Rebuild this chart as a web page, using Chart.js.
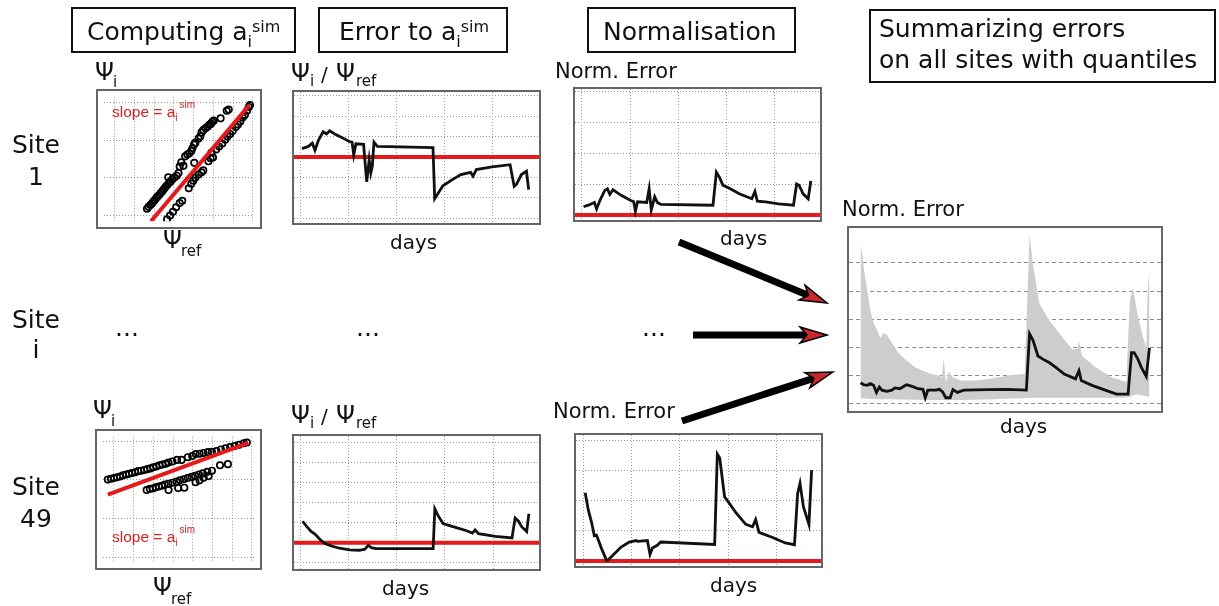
<!DOCTYPE html>
<html><head><meta charset="utf-8">
<script src="https://cdn.jsdelivr.net/npm/chart.js@4.4.1/dist/chart.umd.min.js"></script>
<style>
html,body{margin:0;padding:0;background:#fff;}
body{width:1219px;height:606px;position:relative;overflow:hidden;}
.panel{position:absolute;border:2px solid #666;box-sizing:border-box;background:#fff;}
.panel canvas{display:block;}
#ov{position:absolute;left:0;top:0;pointer-events:none;z-index:5;}
</style></head>
<body>
<script>
// ---------------- DATA ----------------
// Grid (tick) values
const dayGrid = [0, 20, 40, 60, 80];
const ratioGrid1 = [0.7, 0.8, 0.9, 1.0, 1.1, 1.2, 1.3];
const ratioGrid49 = [0.9, 1.0, 1.1, 1.2, 1.3, 1.4, 1.5];
const normGrid = [0, 1, 2, 3, 4];
const scatterGridX = [0, 1, 2, 3, 4, 5, 6, 7];
const scatterGridY = [0, 1, 2, 3];
const summaryGrid = [0, 1, 2, 3, 4, 5];

// Site 1 scatter: Psi_i vs Psi_ref
const s1UpperX = [1.63,1.71,1.80,1.88,1.95,2.03,2.11,2.18,2.26,2.34,2.42,2.49,2.57,2.65,2.71,2.75,2.83,2.92,3.02,3.14,3.23,3.29,3.37,3.48,3.57,3.68,3.78,3.88,3.94,4.02,4.09,4.25,4.34,4.40,4.49,4.60,4.71,4.80,4.88,4.95,5.02,5.37,5.68,5.78];
const s1UpperY = [0.19,0.24,0.29,0.33,0.38,0.42,0.48,0.52,0.56,0.62,0.66,0.71,0.76,0.81,1.02,0.87,0.91,0.97,1.01,1.06,1.13,1.30,1.41,1.32,1.57,1.62,1.65,1.71,1.79,1.88,1.93,2.04,2.10,2.20,2.26,2.31,2.35,2.40,2.43,2.48,2.51,2.57,2.77,2.80];
const s1LowerX = [2.65,2.80,2.95,3.11,3.29,3.42,3.75,3.88,3.98,4.09,4.25,4.40,4.49,4.03,4.75,4.86,4.98,4.91,5.14,5.29,5.45,5.60,5.72,5.85,5.98,6.14,6.25,6.37,6.49,6.60,6.71,6.80,6.86];
const s1LowerY = [-0.09,0.01,0.11,0.23,0.34,0.40,0.73,0.85,0.93,1.01,1.09,1.15,1.20,1.40,1.44,1.52,1.54,1.67,1.75,1.83,1.91,2.01,2.09,2.16,2.24,2.34,2.41,2.49,2.59,2.66,2.77,2.87,2.92];
const s1SlopeX = [1.83, 6.83];
const s1SlopeY = [-0.14, 2.92];

// Site 49 scatter
const s49UpperX = [-0.31,-0.15,0.00,0.15,0.31,0.46,0.62,0.77,0.92,1.08,1.23,1.38,1.54,1.69,1.85,2.00,2.15,2.31,2.46,2.62,2.77,2.97,3.20,3.43,3.75,3.97,4.15,4.35,4.55,4.77,4.97,5.20,5.43,5.66,5.89,6.12,6.35,6.58,6.74];
const s49UpperY = [2.01,2.03,2.05,2.07,2.09,2.12,2.14,2.16,2.18,2.20,2.23,2.24,2.26,2.28,2.30,2.33,2.35,2.38,2.40,2.42,2.45,2.48,2.52,2.52,2.59,2.62,2.67,2.68,2.70,2.72,2.73,2.75,2.79,2.82,2.85,2.88,2.91,2.95,2.97];
const s49LowerX = [1.66,1.82,1.97,2.12,2.28,2.43,2.58,2.77,2.97,3.17,3.35,3.54,3.74,3.94,4.12,4.31,4.51,4.74,4.97,5.38,5.78,2.77,3.26,3.57,4.14,4.34,4.55,4.80];
const s49LowerY = [1.74,1.77,1.78,1.81,1.83,1.85,1.88,1.90,1.93,1.96,1.99,2.02,2.05,2.08,2.11,2.14,2.17,2.21,2.24,2.38,2.41,1.74,1.79,1.80,1.94,1.99,2.06,2.10];
const s49SlopeX = [-0.31, 6.82];
const s49SlopeY = [1.62, 2.96];

// Site 1 ratio Psi_i / Psi_ref over days
const s1RatioDays = [0.7,3.4,5.0,6.1,7.5,9.5,10.9,12.2,14.3,17.0,20.4,21.5,22.2,23.1,26.3,26.8,27.6,28.6,29.3,29.9,30.6,32.0,55.1,55.8,57.1,59.2,63.3,66.7,70.7,71.7,73.1,79.6,87.1,88.8,89.8,91.8,93.9,94.8];
const s1Ratio = [1.041,1.052,1.068,1.033,1.081,1.124,1.113,1.129,1.113,1.097,1.076,1.073,1.010,1.065,1.062,0.986,0.878,0.986,0.922,0.954,1.073,1.052,1.046,0.795,0.819,0.859,0.890,0.914,0.925,0.906,0.938,0.951,0.962,0.856,0.867,0.914,0.930,0.840];
const refRatio = 1.0;

// Site 49 ratio
const s49RatioDays = [0.95,2.7,4.5,6.1,8.2,10.2,12.9,16.3,20.4,24.5,26.8,28.2,29.5,31.3,55.1,55.8,57.1,59.2,63.3,68.7,71.4,72.5,73.9,81.0,87.8,89.1,90.5,91.8,93.9,94.8];
const s49Ratio = [1.107,1.080,1.056,1.043,1.016,0.997,0.984,0.973,0.965,0.963,0.968,0.987,0.976,0.971,0.971,1.168,1.136,1.096,1.080,1.061,1.048,1.064,1.045,1.032,1.024,1.123,1.107,1.080,1.056,1.144];

// Site 1 normalised error
const s1NormDays = [0.7,2.7,5.2,6.1,7.5,9.5,10.6,11.6,12.9,16.3,20.1,21.5,22.2,23.1,26.9,27.9,28.8,30.2,31.3,32.7,54.4,55.8,57.1,58.5,61.2,65.3,70.5,71.8,72.8,76.2,81.6,87.8,89.1,90.1,91.8,93.9,95.0];
const s1Norm = [0.27,0.32,0.41,0.20,0.48,0.80,0.85,0.67,0.82,0.64,0.48,0.43,0.12,0.43,0.41,0.85,0.17,0.59,0.41,0.35,0.32,1.39,1.22,0.97,0.87,0.69,0.53,0.77,0.45,0.43,0.36,0.32,1.01,0.97,0.69,0.53,1.11];
const refNorm = 0;

// Site 49 normalised error
const s49NormDays = [0.7,2.0,3.4,4.5,5.4,7.5,9.5,10.2,12.2,15.6,19.0,21.8,22.4,26.5,27.6,28.6,30.6,32.0,54.4,55.5,56.5,58.5,60.5,63.3,67.3,70.1,71.4,72.8,78.2,83.7,87.5,88.8,89.8,91.2,93.5,94.6];
const s49Norm = [2.27,1.70,1.27,0.84,0.86,0.41,0.03,0.03,0.19,0.46,0.63,0.68,0.65,0.68,0.22,0.43,0.52,0.63,0.55,3.56,3.43,2.14,1.92,1.60,1.22,1.14,1.38,0.95,0.79,0.60,0.54,2.24,2.59,1.81,1.22,3.03];

// Summary over all sites: median and quantile band
const medDays = [0,1.1,2.3,3.4,4.5,5.5,6.5,7.4,9.1,10.8,11.9,13.6,15.9,17.6,19.9,21.6,22.4,23.3,26.1,27.3,28.4,29.5,31.0,32.0,33.5,35.8,43.8,50.6,57.4,58.5,59.7,61.4,63.1,65.3,67.6,70.5,74.4,75.6,76.4,80.1,84.7,88.6,92.6,93.8,94.7,96.0,97.2,98.9,100];
const medVals = [0.75,0.68,0.66,0.72,0.66,0.41,0.60,0.49,0.45,0.49,0.57,0.54,0.68,0.63,0.54,0.52,0.22,0.49,0.49,0.52,0.43,0.22,0.22,0.51,0.41,0.49,0.51,0.52,0.49,2.49,2.26,1.70,1.59,1.47,1.30,1.06,0.89,1.18,0.83,0.66,0.49,0.35,0.35,1.82,1.82,1.59,1.30,0.98,1.99];
const qDays = [0,1.1,2.3,3.4,4.5,5.7,6.8,8.0,9.1,10.8,13.1,15.3,18.8,21.6,24.4,27.3,28.1,28.8,29.5,30.7,31.8,34.7,40.3,46.0,52.3,56.8,58.5,59.7,61.9,65.3,68.8,73.3,75.0,75.6,76.7,81.3,86.9,92.0,93.2,94.3,96.0,97.7,98.9,99.4,100];
const qUpper = [5.75,4.83,4.02,3.32,2.86,2.63,2.34,2.51,2.45,2.16,1.82,1.59,1.30,1.18,1.06,1.01,0.95,1.64,0.78,1.15,0.95,0.83,0.83,0.91,1.03,1.06,5.98,4.94,3.55,2.97,2.51,1.93,1.96,2.22,1.70,1.30,0.95,0.78,3.67,4.13,3.09,2.40,1.99,4.02,4.83];
const qLower = [0.20,0.19,0.19,0.18,0.18,0.17,0.17,0.17,0.17,0.17,0.16,0.16,0.15,0.14,0.14,0.14,0.14,0.14,0.14,0.14,0.14,0.14,0.15,0.17,0.19,0.20,0.22,0.22,0.22,0.22,0.22,0.22,0.22,0.22,0.22,0.22,0.22,0.23,0.25,0.30,0.34,0.30,0.27,0.26,0.25];

// ---------------- HELPERS ----------------
const zip = (xs, ys) => xs.map((x, i) => ({x: x, y: ys[i]}));
const flat = (v) => [{x: -20, y: v}, {x: 120, y: v}];

function scale(min, max, grid, opts) {
  opts = opts || {};
  return {
    type: 'linear', min: min, max: max, display: true,
    afterBuildTicks: s => { s.ticks = grid.map(v => ({value: v})); },
    afterFit: s => { if (s.isHorizontal()) s.height = 0; else s.width = 0; },
    ticks: {display: false},
    grid: {display: opts.showGrid !== false, color: opts.color || '#999', lineWidth: 1, drawTicks: false},
    border: {display: false, dash: opts.dash || [1, 2]}
  };
}

function panel(left, top, w, h) {
  const d = document.createElement('div');
  d.className = 'panel';
  d.style.left = left + 'px'; d.style.top = top + 'px';
  d.style.width = w + 'px'; d.style.height = h + 'px';
  const c = document.createElement('canvas');
  c.width = w - 4; c.height = h - 4;
  c.style.width = (w - 4) + 'px'; c.style.height = (h - 4) + 'px';
  d.appendChild(c);
  document.body.appendChild(d);
  return c.getContext('2d');
}

const baseOpts = (xs, ys) => ({
  responsive: false, animation: false, events: [],
  layout: {padding: 0},
  plugins: {legend: {display: false}, tooltip: {enabled: false}},
  elements: {line: {tension: 0}},
  scales: {x: xs, y: ys}
});

const RED = '#e41a1c';

function scatterPanel(l, t, w, h, ux, uy, lx, ly, sx, sy, xr, yr) {
  const pt = {pointRadius: 3.2, pointBorderWidth: 1.7, pointBorderColor: '#000', pointBackgroundColor: 'rgba(0,0,0,0)', showLine: false};
  new Chart(panel(l, t, w, h), {
    type: 'scatter',
    data: {datasets: [
      {type: 'line', data: zip(sx, sy), borderColor: RED, borderWidth: 4, pointRadius: 0, showLine: true},
      Object.assign({data: zip(ux, uy)}, pt),
      Object.assign({data: zip(lx, ly)}, pt)
    ]},
    options: baseOpts(scale(xr[0], xr[1], scatterGridX), scale(yr[0], yr[1], scatterGridY))
  });
}

function linePanel(l, t, w, h, days, vals, ref, xr, yr, ygrid) {
  new Chart(panel(l, t, w, h), {
    type: 'line',
    data: {datasets: [
      {data: zip(days, vals), borderColor: '#111', borderWidth: 2.8, pointRadius: 0, fill: false},
      {data: flat(ref), borderColor: RED, borderWidth: 4, pointRadius: 0, fill: false}
    ]},
    options: baseOpts(scale(xr[0], xr[1], dayGrid), scale(yr[0], yr[1], ygrid))
  });
}

// ---------------- CHARTS ----------------
scatterPanel(96, 89, 166, 140, s1UpperX, s1UpperY, s1LowerX, s1LowerY, s1SlopeX, s1SlopeY, [-0.57, 7.08], [-0.14, 3.14]);
scatterPanel(95, 429, 167, 141, s49UpperX, s49UpperY, s49LowerX, s49LowerY, s49SlopeX, s49SlopeY, [-0.57, 7.12], [-0.13, 3.12]);

linePanel(292, 90, 249, 135, s1RatioDays, s1Ratio, refRatio, [-2.6, 99.1], [0.676, 1.319], ratioGrid1);
linePanel(292, 434, 249, 137, s49RatioDays, s49Ratio, refRatio, [-2.6, 99.0], [0.87, 1.53], ratioGrid49);

linePanel(573, 87, 249, 135, s1NormDays, s1Norm, refNorm, [-2.86, 98.8], [-0.16, 4.09], normGrid);
linePanel(574, 433, 249, 135, s49NormDays, s49Norm, refNorm, [-3.1, 98.5], [-0.17, 4.2], normGrid);

new Chart(panel(847, 226, 316, 187), {
  type: 'line',
  data: {datasets: [
    {data: zip(medDays, medVals), borderColor: '#111', borderWidth: 2.8, pointRadius: 0, fill: false},
    {data: zip(qDays, qUpper), borderWidth: 0, borderColor: 'rgba(0,0,0,0)', pointRadius: 0, backgroundColor: '#cdcdcd', fill: '+1'},
    {data: zip(qDays, qLower), borderWidth: 0, borderColor: 'rgba(0,0,0,0)', pointRadius: 0, fill: false}
  ]},
  options: baseOpts(scale(-4, 104, dayGrid, {showGrid: false}), scale(-0.25, 6.24, summaryGrid, {dash: [4, 3], color: '#8c8c8c'}))
});
</script>

<svg id="ov" width="1219" height="606" xmlns="http://www.w3.org/2000/svg">
 <g font-family="DejaVu Sans" fill="#111">
  <!-- title boxes -->
  <rect x="72" y="8" width="223" height="44" fill="none" stroke="#111" stroke-width="2"/>
  <text x="87" y="39.5" font-size="25">Computing a<tspan font-size="16" dy="7">i</tspan><tspan font-size="16" dy="-15">sim</tspan></text>
  <rect x="319" y="8" width="188" height="44" fill="none" stroke="#111" stroke-width="2"/>
  <text x="339" y="39.5" font-size="25">Error to a<tspan font-size="16" dy="7">i</tspan><tspan font-size="16" dy="-15">sim</tspan></text>
  <rect x="588" y="8" width="207" height="44" fill="none" stroke="#111" stroke-width="2"/>
  <text x="603" y="39.5" font-size="25">Normalisation</text>
  <rect x="870" y="10" width="345" height="72" fill="none" stroke="#111" stroke-width="2"/>
  <text x="879" y="37" font-size="25">Summarizing errors</text>
  <text x="879" y="68" font-size="25">on all sites with quantiles</text>

  <!-- site labels -->
  <g font-size="25" text-anchor="middle">
   <text x="36" y="153">Site</text><text x="36" y="185">1</text>
   <text x="36" y="328">Site</text><text x="36" y="358">i</text>
   <text x="36" y="495">Site</text><text x="36" y="527">49</text>
  </g>
  <g font-size="25">
   <text x="115" y="336">...</text>
   <text x="356" y="336">...</text>
   <text x="642" y="336">...</text>
  </g>

  <!-- axis labels -->
  <g font-size="24">
   <text x="95" y="80">Ψ<tspan x="113" dy="7" font-size="15">i</tspan></text>
   <text y="81"><tspan x="291">Ψ</tspan><tspan x="310" dy="5" font-size="15">i</tspan><tspan x="321" dy="-5" font-size="20">/</tspan><tspan x="336">Ψ</tspan><tspan x="356" dy="5" font-size="15">ref</tspan></text>
   <text x="163" y="248">Ψ<tspan x="181" dy="8" font-size="15">ref</tspan></text>
   <text x="93" y="418">Ψ<tspan x="111" dy="8" font-size="15">i</tspan></text>
   <text y="423"><tspan x="291">Ψ</tspan><tspan x="310" dy="5" font-size="15">i</tspan><tspan x="321" dy="-5" font-size="20">/</tspan><tspan x="336">Ψ</tspan><tspan x="356" dy="5" font-size="15">ref</tspan></text>
   <text x="153" y="595">Ψ<tspan x="171" dy="9" font-size="15">ref</tspan></text>
  </g>
  <g font-size="21">
   <text x="555" y="78">Norm. Error</text>
   <text x="553" y="418">Norm. Error</text>
   <text x="842" y="216">Norm. Error</text>
  </g>
  <g font-size="20">
   <text x="390" y="249">days</text>
   <text x="720" y="245">days</text>
   <text x="1000" y="433">days</text>
   <text x="382" y="595">days</text>
   <text x="710" y="592">days</text>
  </g>
  <!-- slope annotations -->
  <g font-family="Liberation Sans" fill="#d42222" font-size="15.5">
   <text x="112" y="117">slope = a<tspan font-size="10" dy="4">i</tspan><tspan font-size="10" dx="2" dy="-13">sim</tspan></text>
   <text x="112" y="542">slope = a<tspan font-size="10" dy="4">i</tspan><tspan font-size="10" dx="2" dy="-13">sim</tspan></text>
  </g>
 </g>
 <g id="arrows"></g>
</svg>
<script>
(function(){
  const g = document.getElementById('arrows');
  const NS = 'http://www.w3.org/2000/svg';
  function arrow(x1, y1, x2, y2) {
    const dx = x2 - x1, dy = y2 - y1, L = Math.hypot(dx, dy);
    const ux = dx / L, uy = dy / L, nx = -uy, ny = ux;
    const hl = 27, hw = 8, notch = 20;
    const bx = x2 - ux * notch, by = y2 - uy * notch;
    const ln = document.createElementNS(NS, 'line');
    ln.setAttribute('x1', x1); ln.setAttribute('y1', y1);
    ln.setAttribute('x2', bx + ux * 2); ln.setAttribute('y2', by + uy * 2);
    ln.setAttribute('stroke', '#000'); ln.setAttribute('stroke-width', '7');
    g.appendChild(ln);
    const p = document.createElementNS(NS, 'polygon');
    const pts = [[x2, y2], [x2 - ux * hl + nx * hw, y2 - uy * hl + ny * hw], [bx, by], [x2 - ux * hl - nx * hw, y2 - uy * hl - ny * hw]];
    p.setAttribute('points', pts.map(q => q[0].toFixed(1) + ',' + q[1].toFixed(1)).join(' '));
    p.setAttribute('fill', '#c8272b'); p.setAttribute('stroke', '#000'); p.setAttribute('stroke-width', '1.5');
    p.setAttribute('stroke-linejoin', 'miter');
    g.appendChild(p);
  }
  arrow(679, 242, 827, 303);
  arrow(693, 335, 827, 335);
  arrow(682, 421, 833, 372);
})();
</script>
</body></html>
